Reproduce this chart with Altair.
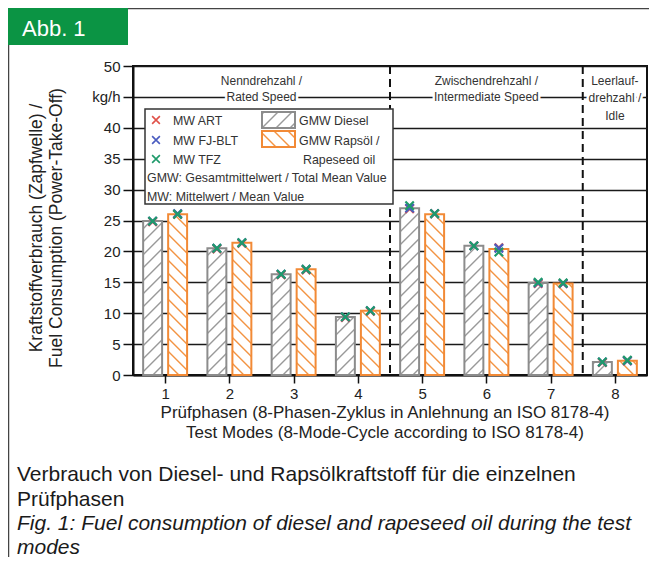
import math
import altair as alt
import pandas as pd

# ---------------- data ----------------
modes = [1, 2, 3, 4, 5, 6, 7, 8]
gmw_diesel = [24.9, 20.5, 16.3, 9.4, 27.0, 20.9, 14.9, 2.1]
gmw_rapeseed = [26.0, 21.4, 17.1, 10.4, 26.0, 20.4, 14.8, 2.3]

mw_art_diesel = [24.8, 20.4, 16.2, 9.3, 26.9, 20.9, 14.8, 2.0]
mw_fjblt_diesel = [24.9, 20.5, 16.3, 9.4, 27.0, 20.9, 14.9, 2.1]
mw_tfz_diesel = [24.9, 20.5, 16.3, 9.4, 27.4, 20.9, 15.0, 2.1]
mw_art_rapeseed = [26.0, 21.3, 17.0, 10.3, 26.1, 20.6, 14.8, 2.3]
mw_fjblt_rapeseed = [26.1, 21.4, 17.1, 10.4, 26.1, 20.5, 14.8, 2.3]
mw_tfz_rapeseed = [26.0, 21.4, 17.1, 10.4, 26.1, 19.9, 14.9, 2.4]

y_ticks = [0, 5, 10, 15, 20, 25, 30, 35, 40, 45, 50]
section_bounds = [4.5, 7.5]
section_labels = [
    ("Nenndrehzahl /", 2.5, 47.6), ("Rated Speed", 2.5, 45.0),
    ("Zwischendrehzahl /", 6.0, 47.6), ("Intermediate Speed", 6.0, 45.0),
    ("Leerlauf-", 8.0, 47.6), ("drehzahl /", 8.0, 44.9), ("Idle", 8.0, 41.9),
]
series_names = ["MW ART", "MW FJ-BLT", "MW TFZ"]
series_colors = ["#e0524a", "#4a5cc0", "#1f9a6b"]
x_title = ["Prüfphasen (8-Phasen-Zyklus in Anlehnung an ISO 8178-4)",
           "Test Modes (8-Mode-Cycle according to ISO 8178-4)"]
y_title = ["Kraftstoffverbrauch (Zapfwelle) /", "Fuel Consumption (Power-Take-Off)"]
caption_de = ["Verbrauch von Diesel- und Rapsölkraftstoff für die einzelnen", "Prüfphasen"]
caption_en = ["Fig. 1: Fuel consumption of diesel and rapeseed oil during the test", "modes"]

# ---------------- layout / style ----------------
FONT = "Liberation Sans"
W, H = 514, 309
PX = W / 8.0      # px per x unit
PY = H / 50.0     # px per y unit
D_COL, R_COL = "#8c8c8c", "#f28a36"
D_HATCH, R_HATCH = "#9a9a9a", "#f39443"
OFF_IN, OFF_OUT = 0.047, 0.342
SP = 13.0


def hatch_segments(x0, x1, h, sp, rising):
    segs = []
    if rising:  # Y = X + c
        kmin = math.floor((-x1) / sp) - 1
        kmax = math.ceil((h - x0) / sp) + 1
        for k in range(kmin, kmax + 1):
            c = k * sp
            lo, hi = max(x0, -c), min(x1, h - c)
            if hi - lo > 0.8:
                segs.append((lo, lo + c, hi, hi + c))
    else:  # Y = -X + c
        kmin = math.floor(x0 / sp) - 1
        kmax = math.ceil((x1 + h) / sp) + 1
        for k in range(kmin, kmax + 1):
            c = k * sp
            lo, hi = max(x0, c - h), min(x1, c)
            if hi - lo > 0.8:
                segs.append((lo, c - lo, hi, c - hi))
    return segs


bar_rows, hatch_rows, mark_rows = [], [], []
for i, m in enumerate(modes):
    for fuel, val, xl, xr, scol, hcol, rising in [
        ("Diesel", gmw_diesel[i], m - OFF_OUT, m - OFF_IN, D_COL, D_HATCH, True),
        ("Rapeseed", gmw_rapeseed[i], m + OFF_IN, m + OFF_OUT, R_COL, R_HATCH, False),
    ]:
        bar_rows.append(dict(xl=xl, xr=xr, v=val, scol=scol))
        for (a, b, c, d) in hatch_segments(xl * PX, xr * PX, val * PY, SP, rising):
            hatch_rows.append(dict(x1=a / PX, y1=b / PY, x2=c / PX, y2=d / PY, col=hcol))
    dxc = m - (OFF_IN + OFF_OUT) / 2
    rxc = m + (OFF_IN + OFF_OUT) / 2
    for s, col, dv, rv in zip(series_names, series_colors,
                              [mw_art_diesel[i], mw_fjblt_diesel[i], mw_tfz_diesel[i]],
                              [mw_art_rapeseed[i], mw_fjblt_rapeseed[i], mw_tfz_rapeseed[i]]):
        mark_rows.append(dict(x=dxc, y=dv, col=col, s=s))
        mark_rows.append(dict(x=rxc, y=rv, col=col, s=s))

bars = pd.DataFrame(bar_rows)
hatches = pd.DataFrame(hatch_rows)
marks = pd.DataFrame(mark_rows)

xs = alt.Scale(domain=[0.5, 8.5], nice=False, zero=False)
ys = alt.Scale(domain=[0, 50], nice=False, zero=True)

x_axis = alt.Axis(values=modes, format="d", title=None, grid=False, tickSize=8,
                  tickWidth=1.5, tickColor="#111", domainColor="#111", domainWidth=2,
                  labelFontSize=15, labelPadding=3, labelColor="#222", labelFont=FONT,
                  labelOverlap=False)
y_axis = alt.Axis(values=y_ticks, title=None, grid=True, gridColor="#1a1a1a", gridWidth=1.6,
                  tickSize=10, tickWidth=1.5, tickColor="#111", domainColor="#111",
                  domainWidth=2, labelFontSize=15, labelPadding=3, labelColor="#222",
                  labelFont=FONT, labelOverlap=False,
                  labelExpr="datum.value == 45 ? 'kg/h' : datum.label")

XPATH = "M-1,-1L1,1M1,-1L-1,1"
one = pd.DataFrame({"a": [0]})


def X(f):
    return alt.X(f, scale=xs, axis=x_axis, title=None)


def Y(f):
    return alt.Y(f, scale=ys, axis=y_axis, title=None)


bars_fill = alt.Chart(bars).mark_rect(fill="white", strokeWidth=0).encode(
    x=X("xl:Q"), x2="xr:Q", y=Y("v:Q"), y2=alt.datum(0))

dividers = alt.Chart(pd.DataFrame({"b": section_bounds})).mark_rule(
    color="#111", strokeWidth=2, strokeDash=[8, 5]).encode(x=X("b:Q"))

hatch_layer = alt.Chart(hatches).mark_rule(strokeWidth=1.4).encode(
    x=X("x1:Q"), x2="x2:Q", y=Y("y1:Q"), y2="y2:Q",
    color=alt.Color("col:N", scale=None))

outline = alt.Chart(bars).mark_rect(fillOpacity=0, strokeWidth=2).encode(
    x=X("xl:Q"), x2="xr:Q", y=Y("v:Q"), y2=alt.datum(0),
    stroke=alt.Stroke("scol:N", scale=None))

markers = alt.Chart(marks).mark_point(shape=XPATH, filled=False, size=70, strokeWidth=2.2,
                                       opacity=1).encode(
    x=X("x:Q"), y=Y("y:Q"), color=alt.Color("col:N", scale=None))

ann = pd.DataFrame(section_labels, columns=["t", "x", "y"])
ann_halo = alt.Chart(ann).mark_text(font=FONT, fontSize=12, color="white", stroke="white",
                                    strokeWidth=5, baseline="middle").encode(
    x=X("x:Q"), y=Y("y:Q"), text="t:N")
ann_text = alt.Chart(ann).mark_text(font=FONT, fontSize=12, color="#333",
                                    baseline="middle").encode(
    x=X("x:Q"), y=Y("y:Q"), text="t:N")

# ---------------- legend (pixel space) ----------------
legend_box = alt.Chart(one).mark_rect(fill="white", stroke="#333", strokeWidth=1.5).encode(
    x=alt.value(12), x2=alt.value(260), y=alt.value(43), y2=alt.value(138))

sw = [(129, 46, 162, 62, D_COL, D_HATCH, True), (129, 65, 162, 81, R_COL, R_HATCH, False)]
sw_rows, swh_rows = [], []
for (x0, y0, x1, y1, scol, hcol, rising) in sw:
    sw_rows.append(dict(px1=x0, px2=x1, py1=y0, py2=y1, col=scol))
    for (a, b, c, d) in hatch_segments(0, x1 - x0, y1 - y0, 14.0, rising):
        swh_rows.append(dict(px1=x0 + a, py1=y1 - b, px2=x0 + c, py2=y1 - d, col=hcol))
sw_df = pd.DataFrame(sw_rows)
swh_df = pd.DataFrame(swh_rows)

pxy = dict(x=alt.X("px1:Q", scale=None), x2="px2:Q",
           y=alt.Y("py1:Q", scale=None), y2="py2:Q")
sw_hatch = alt.Chart(swh_df).mark_rule(strokeWidth=1.4).encode(
    color=alt.Color("col:N", scale=None), **pxy)
sw_outline = alt.Chart(sw_df).mark_rect(fillOpacity=0, strokeWidth=2).encode(
    stroke=alt.Stroke("col:N", scale=None), **pxy)

leg_marks = pd.DataFrame({"px": [23, 23, 23], "py": [54, 74, 93], "col": series_colors})
leg_mark_layer = alt.Chart(leg_marks).mark_point(shape=XPATH, filled=False, size=60,
                                                  strokeWidth=1.6, opacity=1).encode(
    x=alt.X("px:Q", scale=None), y=alt.Y("py:Q", scale=None),
    color=alt.Color("col:N", scale=None))

leg_txt = pd.DataFrame([
    (series_names[0], 40, 55), (series_names[1], 40, 75), (series_names[2], 40, 94),
    ("GMW Diesel", 166, 55), ("GMW Rapsöl /", 166, 75), ("Rapeseed oil", 170, 94),
    ("GMW: Gesamtmittelwert / Total Mean Value", 14, 112),
    ("MW: Mittelwert / Mean Value", 14, 131),
], columns=["t", "px", "py"])


def ptext(df, **kw):
    return alt.Chart(df).mark_text(**kw).encode(
        x=alt.X("px:Q", scale=None), y=alt.Y("py:Q", scale=None), text="t:N")


leg_text_layer = ptext(leg_txt, font=FONT, fontSize=12.4, color="#333", align="left",
                       baseline="middle")

# ---------------- header, frame, titles, caption ----------------
header = alt.Chart(one).mark_rect(fill="#0b9444").encode(
    x=alt.value(-125), x2=alt.value(-5), y=alt.value(-58), y2=alt.value(-21))
header_txt = ptext(pd.DataFrame([("Abb. 1", -111, -30)], columns=["t", "px", "py"]),
                   font=FONT, fontSize=22, color="white", align="left", baseline="alphabetic")
frame_top = alt.Chart(one).mark_rule(color="#444", strokeWidth=1.5).encode(
    x=alt.value(-125), x2=alt.value(516), y=alt.value(-57.5))
frame_left = alt.Chart(one).mark_rule(color="#444", strokeWidth=1.5).encode(
    x=alt.value(-124.5), y=alt.value(-58), y2=alt.value(491))

xt = ptext(pd.DataFrame([(x_title[0], 252, 352), (x_title[1], 252, 372)],
                        columns=["t", "px", "py"]),
           font=FONT, fontSize=17, color="#222", align="center", baseline="alphabetic")
yt = ptext(pd.DataFrame([(y_title[0], -96, 162), (y_title[1], -76, 162)],
                        columns=["t", "px", "py"]),
           font=FONT, fontSize=17.5, color="#222", align="center", baseline="middle", angle=270)
cap1 = ptext(pd.DataFrame([(caption_de[0], -116, 415), (caption_de[1], -116, 440)],
                          columns=["t", "px", "py"]),
             font=FONT, fontSize=21, color="#1a1a1a", align="left", baseline="alphabetic")
cap2 = ptext(pd.DataFrame([(caption_en[0], -116, 464), (caption_en[1], -116, 488)],
                          columns=["t", "px", "py"]),
             font=FONT, fontSize=21, fontStyle="italic", color="#1a1a1a", align="left",
             baseline="alphabetic")

chart = alt.layer(
    bars_fill, dividers, hatch_layer, outline, markers, ann_halo, ann_text,
    legend_box, sw_hatch, sw_outline, leg_mark_layer, leg_text_layer,
    frame_top, frame_left, header, header_txt, xt, yt, cap1, cap2,
).properties(
    width=W, height=H,
    autosize=alt.AutoSizeParams(type="none"),
    padding={"left": 125, "top": 58, "right": 2, "bottom": 190},
    background="white",
).configure_view(stroke="#111", strokeWidth=2)

chart.save("out.html", embed_options={"renderer": "svg", "actions": False})
